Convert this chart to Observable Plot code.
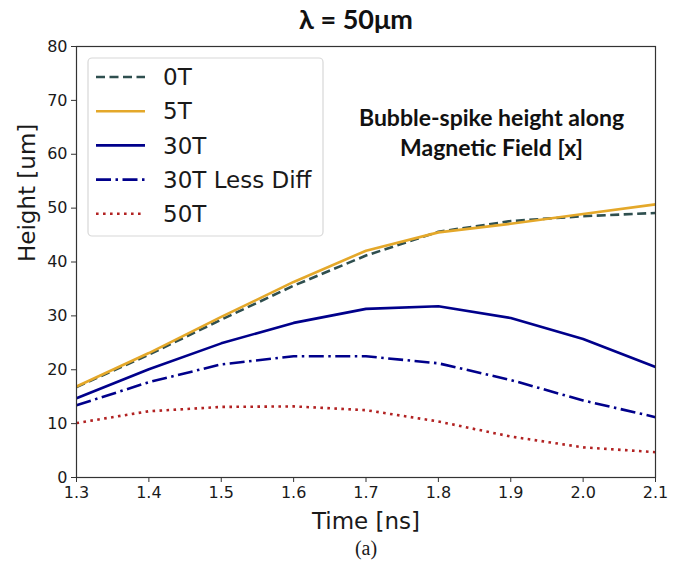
<!DOCTYPE html>
<html>
<head>
<meta charset="utf-8">
<script src="https://cdn.jsdelivr.net/npm/d3@7"></script>
<script src="https://cdn.jsdelivr.net/npm/@observablehq/plot@0.6"></script>
<style>
  html, body { margin: 0; padding: 0; background: #fff; }
  #chart { width: 685px; height: 569px; }
</style>
</head>
<body>
<div id="chart"></div>
<script>
const times = [1.3, 1.4, 1.5, 1.6, 1.7, 1.8, 1.9, 2.0, 2.1];
const h0T = [16.8, 22.8, 29.3, 35.6, 41.2, 45.6, 47.6, 48.5, 49.1];
const h5T = [16.9, 23.1, 29.8, 36.3, 42.1, 45.5, 47.1, 48.9, 50.7];
const h30T = [14.7, 20.1, 24.9, 28.7, 31.3, 31.8, 29.6, 25.7, 20.5];
const h30TLess = [13.4, 17.7, 21.0, 22.5, 22.5, 21.2, 18.1, 14.3, 11.2];
const h50T = [10.1, 12.3, 13.1, 13.2, 12.5, 10.4, 7.6, 5.6, 4.7];
const seriesNames = ["0T", "5T", "30T", "30T Less Diff", "50T"];
const xTicks = [1.3, 1.4, 1.5, 1.6, 1.7, 1.8, 1.9, 2.0, 2.1];
const yTicks = [0, 10, 20, 30, 40, 50, 60, 70, 80];
const titleText = "λ = 50μm";
const annotText = ["Bubble-spike height along", "Magnetic Field [x]"];
const xLabel = "Time [ns]";
const yLabel = "Height [um]";
const captionText = "(a)";

const seriesValues = [h0T, h5T, h30T, h30TLess, h50T];
const styles = [
  {stroke: "#2f4f4f", strokeDasharray: "9,4.5"},
  {stroke: "#e4a82a", strokeDasharray: null},
  {stroke: "#00008b", strokeDasharray: null},
  {stroke: "#00008b", strokeDasharray: "15,4.5,2.5,4.5"},
  {stroke: "#b22222", strokeDasharray: "2.6,4.4"}
];
const rows = seriesNames.map((name, i) => times.map((t, j) => ({t, h: seriesValues[i][j], name})));

const W = 685, H = 569;
const mL = 76, mR = 30, mT = 46, mB = 92;

const lineMarks = rows.map((r, i) => Plot.line(r, {
  x: "t", y: "h",
  stroke: styles[i].stroke,
  strokeWidth: 2.6,
  strokeDasharray: styles[i].strokeDasharray,
  strokeLinecap: "butt",
  strokeLinejoin: "round"
}));

const plot = Plot.plot({
  width: W,
  height: H,
  marginLeft: mL,
  marginRight: mR,
  marginTop: mT,
  marginBottom: mB,
  style: {fontFamily: "DejaVu Sans", fontSize: "16px", color: "#1a1a1a", background: "#fff"},
  x: {domain: [1.3, 2.1], ticks: xTicks, tickFormat: d3.format(".1f"), label: null},
  y: {domain: [0, 80], ticks: yTicks, label: null},
  marks: [
    ...lineMarks,
    Plot.frame({stroke: "#333", strokeWidth: 1.2}),
    Plot.axisX({ticks: xTicks, tickFormat: d3.format(".1f"), tickSize: 5, tickPadding: 4, fontSize: 16, label: null, stroke: "#333"}),
    Plot.axisY({ticks: yTicks, tickSize: 5, tickPadding: 4, fontSize: 16, label: null, stroke: "#333"}),
    Plot.text([titleText], {frameAnchor: "top", lineAnchor: "middle", dx: -10, dy: -26, fontSize: 27, fontWeight: "bold", fontFamily: "Lato", fill: "#111"}),
    Plot.text([annotText[0]], {frameAnchor: "top-right", lineAnchor: "middle", textAnchor: "middle", dx: -164, dy: 72, fontSize: 23, fontWeight: "bold", fontFamily: "Lato", fill: "#111"}),
    Plot.text([annotText[1]], {frameAnchor: "top-right", lineAnchor: "middle", textAnchor: "middle", dx: -164, dy: 102, fontSize: 23, fontWeight: "bold", fontFamily: "Lato", fill: "#111"}),
    Plot.text([xLabel], {frameAnchor: "bottom", lineAnchor: "middle", dy: 44, fontSize: 23, fontFamily: "DejaVu Sans", fill: "#1a1a1a"}),
    Plot.text([captionText], {frameAnchor: "bottom", lineAnchor: "middle", dy: 71, fontSize: 20, fontFamily: "Liberation Serif", fill: "#1a1a1a"}),
    Plot.text([yLabel], {frameAnchor: "left", dx: -49, rotate: -90, fontSize: 23, fontFamily: "DejaVu Sans", fill: "#1a1a1a"})
  ]
});

document.getElementById("chart").appendChild(plot);

// Legend (drawn into the same SVG)
const svg = d3.select(plot);
const lg = svg.append("g").attr("class", "legend");
const boxX = mL + 12, boxY = mT + 12, boxW = 235, boxH = 178;
lg.append("rect")
  .attr("x", boxX).attr("y", boxY).attr("width", boxW).attr("height", boxH)
  .attr("rx", 4).attr("fill", "#fff").attr("fill-opacity", 0.85)
  .attr("stroke", "#d8d8d8").attr("stroke-width", 1.2);
seriesNames.forEach((name, i) => {
  const cy = boxY + 19 + i * 34.2;
  lg.append("line")
    .attr("x1", boxX + 8).attr("x2", boxX + 57)
    .attr("y1", cy).attr("y2", cy)
    .attr("stroke", styles[i].stroke).attr("stroke-width", 2.6)
    .attr("stroke-dasharray", styles[i].strokeDasharray)
    .attr("stroke-linecap", "butt");
  lg.append("text")
    .attr("x", boxX + 75).attr("y", cy)
    .attr("dy", "0.36em")
    .style("font-family", "DejaVu Sans").style("font-size", "23px")
    .style("text-anchor", "start")
    .attr("fill", "#1a1a1a")
    .text(name);
});
</script>
</body>
</html>
